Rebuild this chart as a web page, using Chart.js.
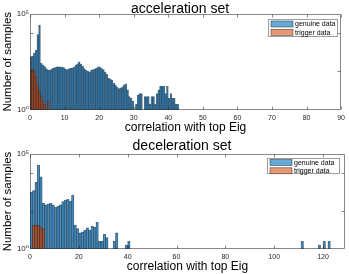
<!DOCTYPE html>
<html><head><meta charset="utf-8">
<script src="https://cdn.jsdelivr.net/npm/chart.js@4.4.1/dist/chart.umd.min.js"></script>
<style>
html,body{margin:0;padding:0;background:#fff}
#wrap{position:relative;width:349px;height:274px}
.pane{position:absolute;left:0;width:349px;height:137px}
</style></head><body>
<div id="wrap">
<div class="pane" style="top:0"><canvas id="accel"></canvas></div>
<div class="pane" style="top:137px"><canvas id="decel"></canvas></div>
</div>
<script>
// ---------- data ----------
const seriesNames = ['genuine data', 'trigger data'];
const panelTitles = ['acceleration set', 'deceleration set'];
const xAxisTitle = 'correlation with top Eig';
const yAxisTitle = 'Number of samples';

const accelCenters = [0.25,0.75,1.25,1.75,2.25,2.75,3.25,3.75,4.25,4.75,5.25,5.75,6.25,6.75,7.25,7.75,8.25,8.75,9.25,9.75,
  10.25,10.75,11.25,11.75,12.25,12.75,13.25,13.75,14.25,14.75,15.25,15.75,16.25,16.75,17.25,17.75,18.25,18.75,19.25,19.75,
  20.25,20.75,21.25,21.75,22.25,22.75,23.25,23.75,24.25,24.75,25.25,25.75,26.25,26.75,27.25,27.75,28.25,28.75,29.25,29.75,
  30.25,30.75,31.25,31.75,32.25,32.75,33.25,33.75,34.25,34.75,35.25,35.75,36.25,36.75,37.25,37.75,38.25,38.75,39.25,39.75,
  40.25,40.75,41.25,41.75,42.25,42.75,43.25];
const accelGenuine = [590,630,900,1260,8000,25000,260,220,180,140,120,115,130,150,160,170,170,170,165,160,
  130,125,135,148,150,165,210,250,310,240,190,140,115,100,93,112,125,135,148,170,
  165,140,125,93,70,45,40,35,25,20,15,13,14,16,20,23,11,5,4,3,
  1,2,6,7,7,1,5,5,5,2,5,5,2,7,11,17,17,17,7,17,
  4,7,4,4,2,2,1];
const accelTriggerCenters = [0.25,0.75,1.25,1.75,2.25,2.75,3.25,3.75,4.25,4.75,5.25];
const accelTrigger = [120,125,115,55,20,9,5,3,2,1,3];

const decelCenters = [0.5,1.5,2.5,3.5,4.5,5.5,6.5,7.5,8.5,9.5,10.5,11.5,12.5,13.5,14.5,15.5,16.5,17.5,18.5,19.5,
  20.5,21.5,22.5,23.5,24.5,25.5,26.5,27.5,28.5,29.5,30.5,31.5,32.5,33.5,34.5,35.5,39.5,40.5,111.5,118.5,120.5,122.5];
const decelGenuine = [1000,1170,3200,26000,6300,250,210,230,250,210,155,180,210,310,380,410,330,690,18,12,
  7,8,10,13,10,16,14,25,2.5,2.5,6,4,1,1,2.5,7,1.6,2.5,2.5,1.6,2.5,2.5];
const decelTriggerCenters = [1.5,2.5,3.5,4.5,5.5];
const decelTrigger = [18,18,17,14,11];

const accelXTicks = [0,10,20,30,40,50,60,70,80,90];
const decelXTicks = [0,20,40,60,80,100,120];
const yTickValues = [1,10,100,1000,10000,100000];
const yTickLabels = {1:'10\u2070', 100000:'10\u2075'};
const yInnerTicks = [100,10000];

// ---------- styling ----------
const FONT = "'Liberation Sans', Arial, 'DejaVu Sans', sans-serif";
Chart.defaults.font.family = FONT;
const seriesFill = ['rgba(0,98,168,0.68)', 'rgba(205,72,18,0.68)'];
const legendFill = ['rgb(102,170,215)', 'rgb(232,152,117)'];
const edgeColor = 'rgba(20,20,20,0.6)';
const axisInk = '#262626';

function histData(centers, counts){ return centers.map((c,i)=>({x:c, y:counts[i]})); }

const boxTicks = {
  id:'boxTicks',
  afterDatasetsDraw(chart, args, o){
    const {ctx, chartArea:a, scales:{x,y}} = chart;
    ctx.save();
    ctx.strokeStyle = 'rgba(38,38,38,0.55)';
    ctx.lineWidth = 1;
    const L=Math.round(a.left)+0.5, R=Math.round(a.right)-0.5, T=Math.round(a.top)+0.5, B=Math.round(a.bottom)-0.5;
    ctx.beginPath();
    ctx.rect(L,T,R-L,B-T);
    x.ticks.forEach(t=>{const px=Math.round(x.getPixelForValue(t.value))+0.5;
      ctx.moveTo(px,B); ctx.lineTo(px,B-3); ctx.moveTo(px,T); ctx.lineTo(px,T+3);});
    yInnerTicks.forEach(v=>{const py=Math.round(y.getPixelForValue(v))+0.5;
      ctx.moveTo(L,py); ctx.lineTo(L+3,py); ctx.moveTo(R,py); ctx.lineTo(R-3,py);});
    ctx.stroke();
    // panel title, centred slightly left of the plot centre as in the reference
    ctx.fillStyle = '#000';
    ctx.font = '14px ' + FONT;
    ctx.textAlign = 'center'; ctx.textBaseline = 'alphabetic';
    ctx.fillText(o.title, (a.left + a.right)/2 - 5.5, o.titleBase);
    ctx.restore();
  }
};

const boxLegend = {
  id:'boxLegend',
  afterDraw(chart, args, o){
    const ctx = chart.ctx;
    ctx.save();
    ctx.fillStyle = '#fff'; ctx.fillRect(o.x,o.y,o.w,o.h);
    ctx.strokeStyle = 'rgba(38,38,38,0.45)'; ctx.lineWidth = 1;
    ctx.strokeRect(o.x+0.5,o.y+0.5,o.w-1,o.h-1);
    ctx.font = '7px ' + FONT; ctx.textBaseline = 'middle'; ctx.textAlign = 'left';
    chart.data.datasets.forEach((ds,i)=>{
      const ry = o.y + o.rowTop + i*o.pitch;
      ctx.fillStyle = legendFill[i]; ctx.fillRect(o.x+3, ry, 22, 6);
      ctx.strokeStyle = 'rgba(38,38,38,0.8)'; ctx.lineWidth = 0.6; ctx.strokeRect(o.x+3, ry, 22, 6);
      ctx.fillStyle = '#000'; ctx.fillText(ds.label, o.x+27, ry+3.3);
    });
    ctx.restore();
  }
};

function makeChart(id, cfg){
  return new Chart(document.getElementById(id), {
    type:'bar',
    data:{datasets:[
      {label:seriesNames[0], data:histData(cfg.gC, cfg.gV), backgroundColor:seriesFill[0],
       borderColor:edgeColor, borderWidth:0.45, order:1},
      {label:seriesNames[1], data:histData(cfg.tC, cfg.tV), backgroundColor:seriesFill[1],
       borderColor:edgeColor, borderWidth:0.45, order:0}
    ]},
    plugins:[boxTicks, boxLegend],
    options:{
      responsive:true, maintainAspectRatio:false, animation:false, devicePixelRatio:1,
      layout:{padding:{left:0,right:4,top:cfg.top,bottom:0}},
      datasets:{bar:{grouped:false, barPercentage:1, categoryPercentage:1}},
      plugins:{
        legend:{display:false}, tooltip:{enabled:false}, title:{display:false},
        boxTicks:{title:cfg.title, titleBase:cfg.titleBase},
        boxLegend:cfg.legend
      },
      scales:{
        x:{type:'linear', min:0, max:cfg.xMax, offset:false,
           grid:{display:false, drawTicks:false}, border:{display:false},
           afterBuildTicks:s=>{s.ticks = cfg.xTicks.map(v=>({value:v}));},
           afterFit:s=>{s.height = cfg.xH;},
           ticks:{color:axisInk, font:{size:7}, padding:4, autoSkip:false, maxRotation:0},
           title:{display:true, text:xAxisTitle, color:'#000', font:{size:12, lineHeight:1.2}, padding:{top:0,bottom:cfg.xTitlePad}}},
        y:{type:'logarithmic', min:1, max:100000,
           grid:{display:false, drawTicks:false}, border:{display:false},
           afterBuildTicks:s=>{s.ticks = yTickValues.map(v=>({value:v}));},
           afterFit:s=>{s.width = 30;},
           ticks:{color:axisInk, font:{size:8}, padding:1, autoSkip:false,
                  callback:(v)=>yTickLabels[v]||''},
           title:{display:true, text:yAxisTitle, color:'#000', font:{size:11.5, lineHeight:1.2}, padding:{top:1,bottom:0}}}
      }
    }
  });
}

makeChart('accel', {gC:accelCenters, gV:accelGenuine, tC:accelTriggerCenters, tV:accelTrigger,
  title:panelTitles[0], top:13.5, titleBase:12.5, xMax:90, xTicks:accelXTicks, xH:27, xTitlePad:2,
  legend:{x:268, y:19, w:70, h:18, rowTop:2, pitch:8.3}});
makeChart('decel', {gC:decelCenters, gV:decelGenuine, tC:decelTriggerCenters, tV:decelTrigger,
  title:panelTitles[1], top:17, titleBase:12.5, xMax:129, xTicks:decelXTicks, xH:25, xTitlePad:0,
  legend:{x:267, y:21, w:73, h:16, rowTop:1.5, pitch:8.3}});
</script></body></html>
